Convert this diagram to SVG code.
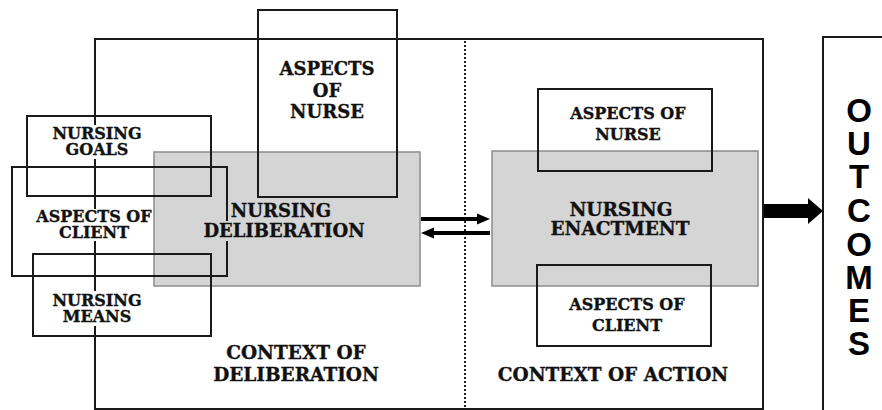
<svg xmlns="http://www.w3.org/2000/svg" width="882" height="410" viewBox="0 0 882 410">
<style>
.box{fill:none;stroke:#1a1a1a;stroke-width:2}
.gray{fill:#d5d5d5;stroke:#8c8c8c;stroke-width:1.5}
.t{font-family:"DejaVu Serif","Liberation Serif",serif;font-weight:bold;font-size:16px;fill:#111;text-anchor:middle}
.m{font-size:18px}
.l{font-size:18.5px}
.ink{stroke:#111;stroke-width:0.35px}
.bgw{fill:#fff}
.bgg{fill:#d5d5d5}
.out{font-family:"Liberation Sans",Arial,sans-serif;font-weight:bold;font-size:33px;fill:#000;text-anchor:middle}
</style>
<rect x="0" y="0" width="882" height="410" fill="#fff"/>
<g id="context-deliberation">
<rect class="box" x="95" y="39" width="668" height="370"/>
<text class="t l ink" x="296" y="359">CONTEXT OF</text>
<text class="t l ink" x="296" y="381">DELIBERATION</text>
</g>
<g id="context-action">
<line x1="465" y1="41" x2="465" y2="408" stroke="#222" stroke-width="2" stroke-dasharray="2,2"/>
<text class="t l ink" x="613" y="381">CONTEXT OF ACTION</text>
</g>
<g id="nursing-deliberation">
<rect class="gray" x="154" y="152" width="266" height="134"/>
</g>
<g id="nursing-enactment">
<rect class="gray" x="492" y="151" width="266" height="135"/>
<text class="t l ink" x="621" y="216">NURSING</text>
<text class="t l ink" x="620" y="235">ENACTMENT</text>
</g>
<g id="aspects-nurse-left">
<rect class="box" x="258" y="10" width="139" height="187"/>
<text class="t m ink" x="327" y="75">ASPECTS</text>
<text class="t m ink" x="327" y="97">OF</text>
<text class="t m ink" x="327" y="118">NURSE</text>
</g>
<g id="nursing-goals">
<rect class="box" x="27" y="116" width="184" height="80"/>
</g>
<g id="aspects-client-left">
<rect class="box" x="12" y="167" width="215" height="109"/>
</g>
<g id="nursing-means">
<rect class="box" x="33" y="254" width="178" height="82"/>
</g>
<g id="labels-left">
<rect class="bgw" x="51" y="125" width="93" height="34"/>
<text class="t ink" x="97" y="139">NURSING</text>
<text class="t ink" x="97" y="155">GOALS</text>
<rect class="bgw" x="35" y="209" width="118" height="32"/>
<text class="t ink" x="94" y="221.5">ASPECTS OF</text>
<text class="t ink" x="94" y="238">CLIENT</text>
<rect class="bgw" x="51" y="291" width="93" height="35"/>
<text class="t ink" x="97" y="306">NURSING</text>
<text class="t ink" x="97" y="322">MEANS</text>
<rect class="bgg" x="230" y="203" width="103" height="18"/>
<rect class="bgg" x="199" y="221" width="170" height="20"/>
<text class="t m ink" x="281" y="217">NURSING</text>
<text class="t m ink" x="284" y="237">DELIBERATION</text>
</g>
<g id="aspects-nurse-right">
<rect class="box" x="538" y="89" width="174" height="82"/>
<text class="t ink" x="628" y="119">ASPECTS OF</text>
<text class="t ink" x="628" y="140">NURSE</text>
</g>
<g id="aspects-client-right">
<rect class="box" x="537" y="265" width="174" height="81"/>
<text class="t ink" x="627" y="310">ASPECTS OF</text>
<text class="t ink" x="627" y="331">CLIENT</text>
</g>
<g id="outcomes">
<rect class="box" x="823" y="37" width="90" height="400"/>
<text class="out" x="859" y="122">O</text>
<text class="out" x="859" y="155">U</text>
<text class="out" x="859" y="188">T</text>
<text class="out" x="859" y="222">C</text>
<text class="out" x="859" y="256">O</text>
<text class="out" x="859" y="289">M</text>
<text class="out" x="859" y="322">E</text>
<text class="out" x="859" y="355">S</text>
</g>
<g id="connectors">
<line x1="421" y1="219" x2="479" y2="219" stroke="#000" stroke-width="4"/>
<polygon points="477,213.5 490,219 477,224.5" fill="#000"/>
<line x1="432" y1="233" x2="490" y2="233" stroke="#000" stroke-width="4"/>
<polygon points="434,227.5 421,233 434,238.5" fill="#000"/>
<rect x="764" y="204" width="45" height="14" fill="#000"/>
<polygon points="808,198 823,211 808,224" fill="#000"/>
</g>
</svg>
